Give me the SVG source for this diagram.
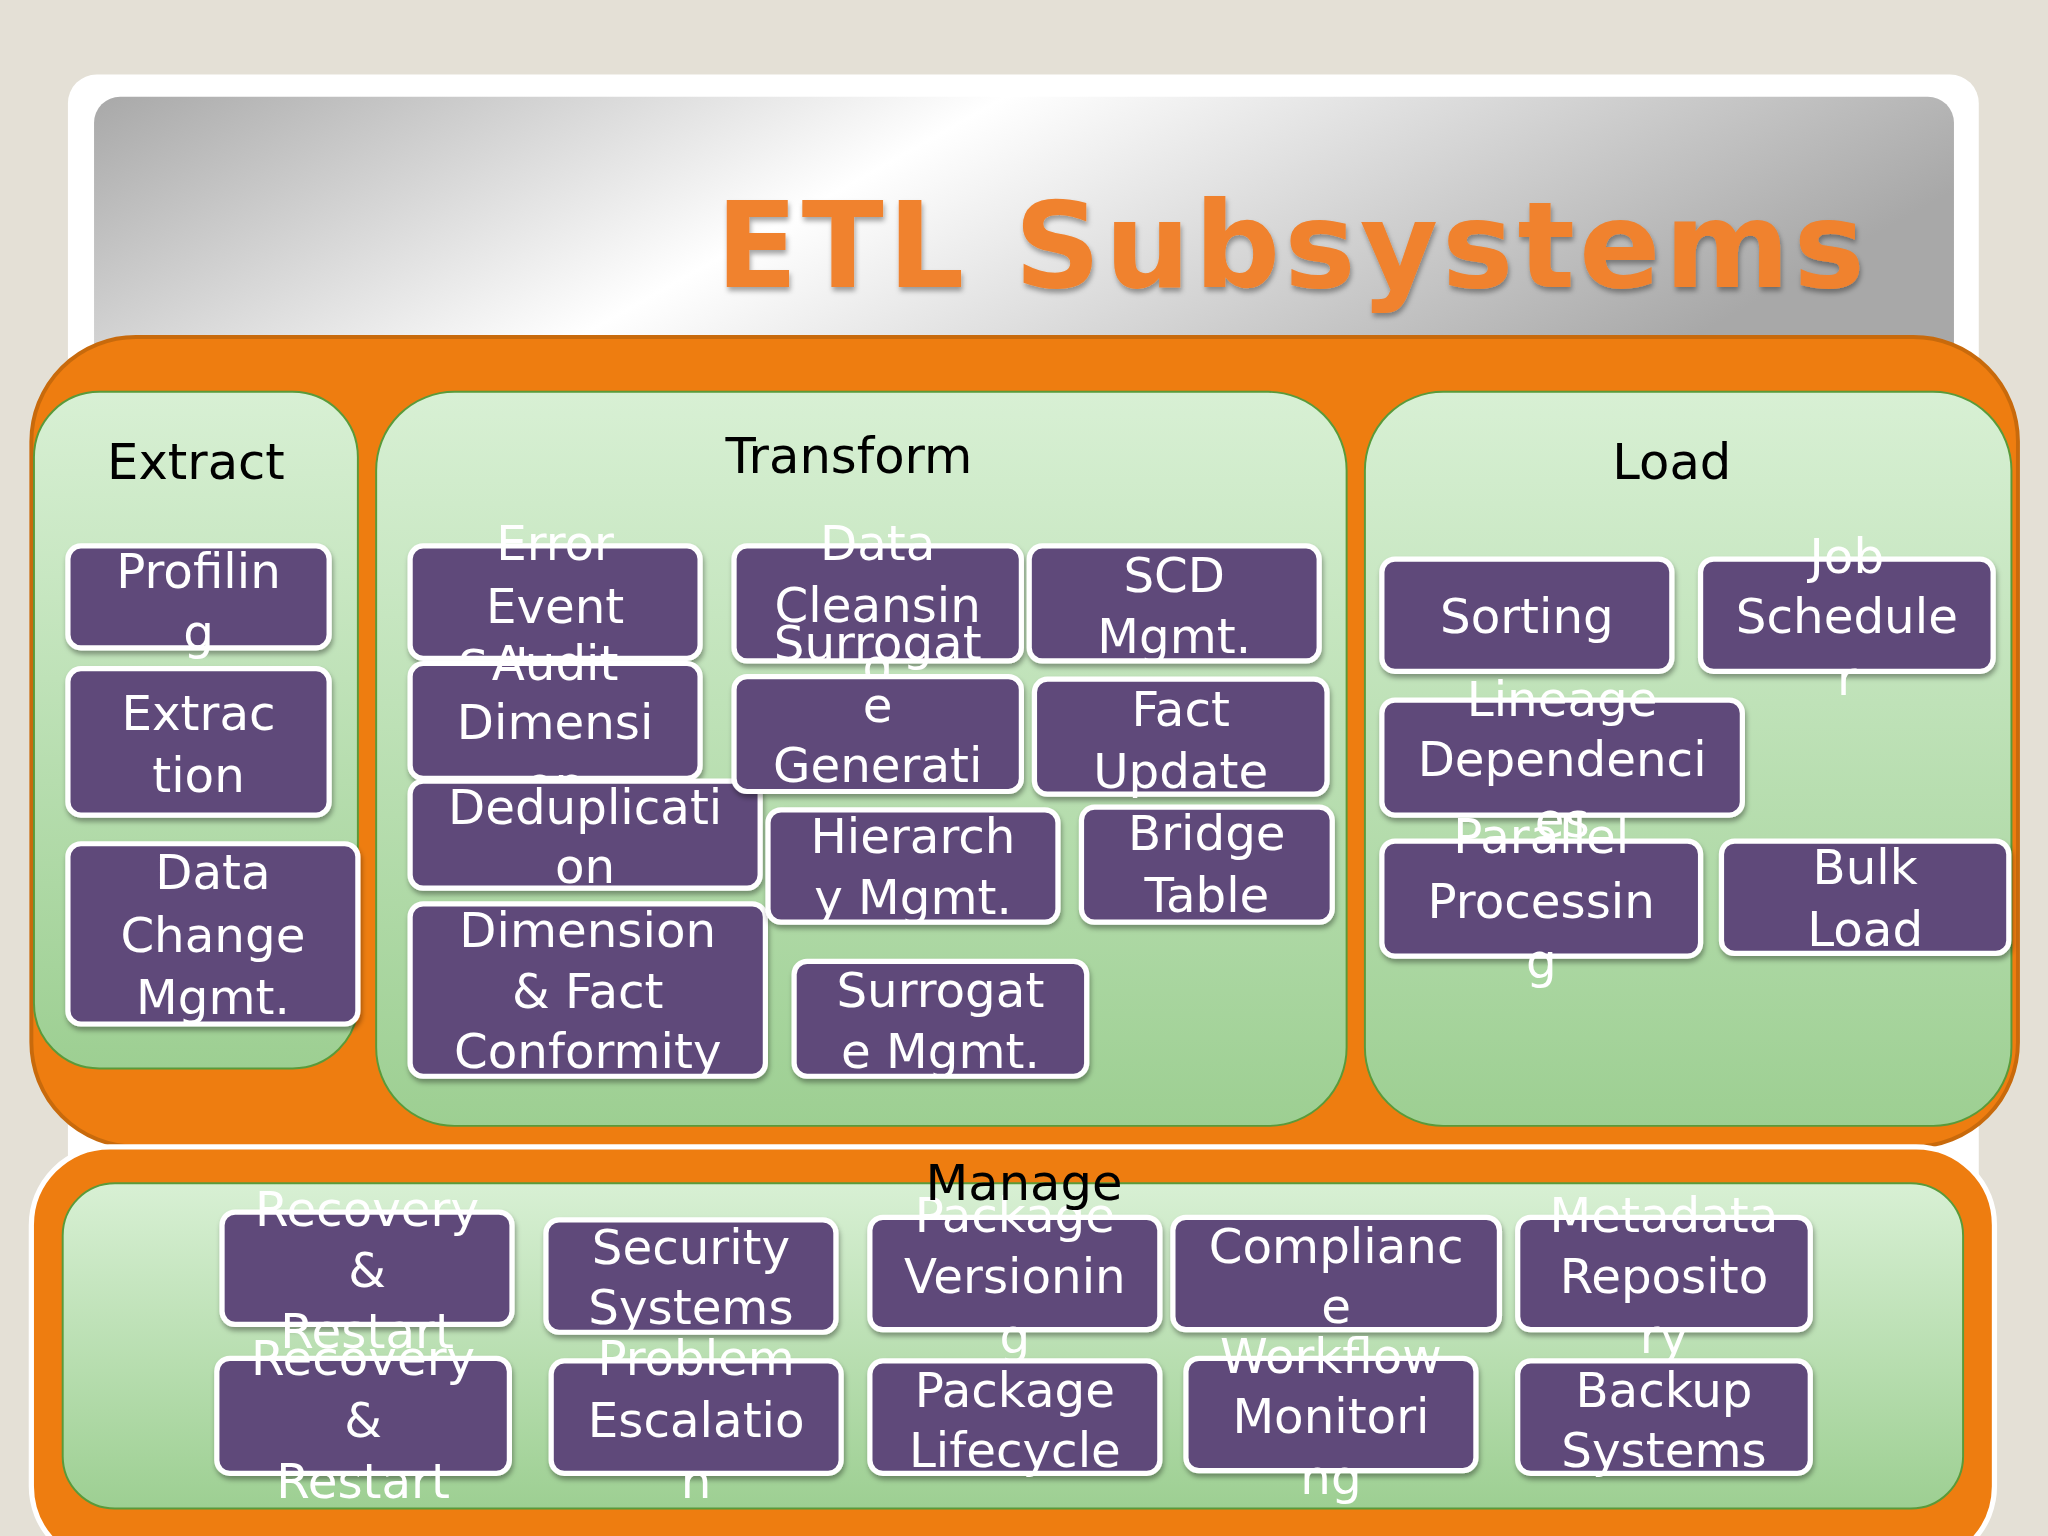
<svg xmlns="http://www.w3.org/2000/svg" width="2048" height="1536" viewBox="0 0 2048 1536">
<defs>
<linearGradient id="hdr" x1="0" y1="0" x2="1" y2="0.3"><stop offset="0" stop-color="#a8a8a8"/><stop offset="0.45" stop-color="#ffffff"/><stop offset="1" stop-color="#a8a8a8"/></linearGradient>
<linearGradient id="grn" x1="0" y1="0" x2="0" y2="1"><stop offset="0" stop-color="#d8f0d4"/><stop offset="1" stop-color="#9dcf92"/></linearGradient>
<filter id="sh" x="-10%" y="-10%" width="130%" height="140%"><feDropShadow dx="1" dy="3" stdDeviation="2" flood-color="#000" flood-opacity="0.35"/></filter>
</defs>
<style>
.b{fill:#5e4a7a;stroke:#fff;stroke-width:4;filter:url(#sh)}
.t{font-family:"DejaVu Sans",Verdana,sans-serif;font-size:37px;fill:#fff;text-anchor:middle}
.p{fill:url(#grn);stroke:#5a9a3a;stroke-width:1.5}
.l{font-family:"DejaVu Sans",Verdana,sans-serif;font-size:38px;fill:#000;text-anchor:middle}
</style>
<rect width="2048" height="1536" fill="#e4e0d6"/>
<g transform="scale(1.30612)">
<rect x="52" y="57" width="1463" height="1140" rx="22" fill="#fff"/>
<rect x="72" y="74" width="1424" height="240" rx="20" fill="url(#hdr)"/>
<text x="548" y="220" font-family="DejaVu Sans,Verdana,sans-serif" font-weight="bold" font-size="92" textLength="880" fill="#f0822d" filter="url(#sh)">ETL Subsystems</text>
<rect x="24" y="258" width="1521" height="620" rx="80" fill="#ee7d10" stroke="#c86a0c" stroke-width="3"/>
<rect x="24" y="878" width="1503" height="320" rx="60" fill="#ee7d10" stroke="#fff" stroke-width="4"/>
<g id="extract"><rect class="p" x="26" y="300" width="248" height="518" rx="50"/><text class="l" x="150" y="367">Extract</text></g>
<g id="transform"><rect class="p" x="288" y="300" width="743" height="562" rx="60"/><text class="l" x="650" y="362">Transform</text></g>
<g id="load"><rect class="p" x="1045" y="300" width="495" height="562" rx="60"/><text class="l" x="1280" y="367">Load</text></g>
<g id="manage"><rect class="p" x="48" y="906" width="1455" height="249" rx="40"/></g>
<g id="n1"><rect class="b" x="52" y="418" width="200" height="78" rx="10"/><text class="t" x="152" y="450">Profilin</text><text class="t" x="152" y="497">g</text></g>
<g id="n2"><rect class="b" x="52" y="512" width="200" height="112" rx="10"/><text class="t" x="152" y="559">Extrac</text><text class="t" x="152" y="606">tion</text></g>
<g id="n3"><rect class="b" x="52" y="646" width="222" height="138" rx="10"/><text class="t" x="163" y="681">Data</text><text class="t" x="163" y="729">Change</text><text class="t" x="163" y="776">Mgmt.</text></g>
<g id="n4"><rect class="b" x="314" y="418" width="222" height="86" rx="10"/><text class="t" x="425" y="429">Error</text><text class="t" x="425" y="477">Event</text><text class="t" x="425" y="524">Schema</text></g>
<g id="n5"><rect class="b" x="314" y="508" width="222" height="88" rx="10"/><text class="t" x="425" y="521">Audit</text><text class="t" x="425" y="566">Dimensi</text><text class="t" x="425" y="613">on</text></g>
<g id="n6"><rect class="b" x="314" y="598" width="268" height="82" rx="10"/><text class="t" x="448" y="631">Deduplicati</text><text class="t" x="448" y="676">on</text></g>
<g id="n7"><rect class="b" x="314" y="692" width="272" height="132" rx="10"/><text class="t" x="450" y="725">Dimension</text><text class="t" x="450" y="772">&amp; Fact</text><text class="t" x="450" y="818">Conformity</text></g>
<g id="n8"><rect class="b" x="562" y="418" width="220" height="88" rx="10"/><text class="t" x="672" y="429">Data</text><text class="t" x="672" y="476">Cleansin</text><text class="t" x="672" y="523">g</text></g>
<g id="n9"><rect class="b" x="562" y="518" width="220" height="88" rx="10"/><text class="t" x="672" y="505">Surrogat</text><text class="t" x="672" y="553">e</text><text class="t" x="672" y="599">Generati</text><text class="t" x="672" y="646">on</text></g>
<g id="n10"><rect class="b" x="788" y="418" width="222" height="88" rx="10"/><text class="t" x="899" y="453">SCD</text><text class="t" x="899" y="500">Mgmt.</text></g>
<g id="n11"><rect class="b" x="792" y="520" width="224" height="88" rx="10"/><text class="t" x="904" y="556">Fact</text><text class="t" x="904" y="603">Update</text></g>
<g id="n12"><rect class="b" x="588" y="620" width="222" height="86" rx="10"/><text class="t" x="699" y="653">Hierarch</text><text class="t" x="699" y="700">y Mgmt.</text></g>
<g id="n13"><rect class="b" x="828" y="618" width="192" height="88" rx="10"/><text class="t" x="924" y="651">Bridge</text><text class="t" x="924" y="698">Table</text></g>
<g id="n14"><rect class="b" x="608" y="736" width="224" height="88" rx="10"/><text class="t" x="720" y="771">Surrogat</text><text class="t" x="720" y="818">e Mgmt.</text></g>
<g id="n15"><rect class="b" x="1058" y="428" width="222" height="86" rx="10"/><text class="t" x="1169" y="485">Sorting</text></g>
<g id="n16"><rect class="b" x="1302" y="428" width="224" height="86" rx="10"/><text class="t" x="1414" y="439">Job</text><text class="t" x="1414" y="485">Schedule</text><text class="t" x="1414" y="532">r</text></g>
<g id="n17"><rect class="b" x="1058" y="536" width="276" height="88" rx="10"/><text class="t" x="1196" y="548">Lineage</text><text class="t" x="1196" y="594">Dependenci</text><text class="t" x="1196" y="641">es</text></g>
<g id="n18"><rect class="b" x="1058" y="644" width="244" height="88" rx="10"/><text class="t" x="1180" y="653">Parallel</text><text class="t" x="1180" y="703">Processin</text><text class="t" x="1180" y="749">g</text></g>
<g id="n19"><rect class="b" x="1318" y="644" width="220" height="86" rx="10"/><text class="t" x="1428" y="677">Bulk</text><text class="t" x="1428" y="724">Load</text></g>
<g id="n20"><rect class="b" x="170" y="928" width="222" height="86" rx="10"/><text class="t" x="281" y="939">Recovery</text><text class="t" x="281" y="985">&amp;</text><text class="t" x="281" y="1032">Restart</text></g>
<g id="n21"><rect class="b" x="166" y="1040" width="224" height="88" rx="10"/><text class="t" x="278" y="1053">Recovery</text><text class="t" x="278" y="1100">&amp;</text><text class="t" x="278" y="1147">Restart</text></g>
<g id="n22"><rect class="b" x="418" y="934" width="222" height="86" rx="10"/><text class="t" x="529" y="968">Security</text><text class="t" x="529" y="1014">Systems</text></g>
<g id="n23"><rect class="b" x="422" y="1042" width="222" height="86" rx="10"/><text class="t" x="533" y="1053">Problem</text><text class="t" x="533" y="1100">Escalatio</text><text class="t" x="533" y="1147">n</text></g>
<g id="n24"><rect class="b" x="666" y="932" width="222" height="86" rx="10"/><text class="t" x="777" y="943">Package</text><text class="t" x="777" y="990">Versionin</text><text class="t" x="777" y="1036">g</text></g>
<g id="n25"><rect class="b" x="666" y="1042" width="222" height="86" rx="10"/><text class="t" x="777" y="1077">Package</text><text class="t" x="777" y="1123">Lifecycle</text></g>
<g id="n26"><rect class="b" x="898" y="932" width="250" height="86" rx="10"/><text class="t" x="1023" y="967">Complianc</text><text class="t" x="1023" y="1013">e</text></g>
<g id="n27"><rect class="b" x="908" y="1040" width="222" height="86" rx="10"/><text class="t" x="1019" y="1051">Workflow</text><text class="t" x="1019" y="1097">Monitori</text><text class="t" x="1019" y="1144">ng</text></g>
<g id="n28"><rect class="b" x="1162" y="932" width="224" height="86" rx="10"/><text class="t" x="1274" y="943">Metadata</text><text class="t" x="1274" y="990">Reposito</text><text class="t" x="1274" y="1036">ry</text></g>
<g id="n29"><rect class="b" x="1162" y="1042" width="224" height="86" rx="10"/><text class="t" x="1274" y="1077">Backup</text><text class="t" x="1274" y="1123">Systems</text></g>
<text class="l" x="784" y="919">Manage</text>
<g id="connectors"/>
</g>
</svg>
